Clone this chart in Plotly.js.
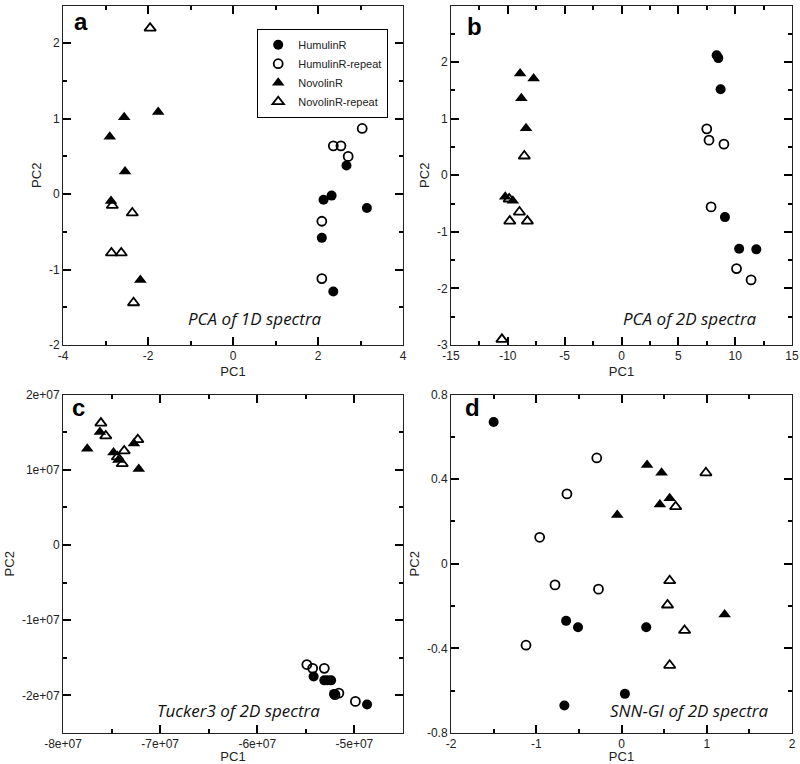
<!DOCTYPE html>
<html>
<head>
<meta charset="utf-8">
<script src="https://cdn.plot.ly/plotly-3.0.1.min.js"></script>
<style>
  html, body { margin: 0; padding: 0; background: #fff; }
  #grafica { width: 800px; height: 764px; }
</style>
</head>
<body>
<div id="grafica"></div>
<script>
// series names
let series = ['HumulinR', 'HumulinR-repeat', 'NovolinR', 'NovolinR-repeat'];

// panel a: PCA of 1D spectra
let aHumX = [2.67, 2.13, 2.32, 3.15, 2.09, 2.36];
let aHumY = [0.38, -0.075, -0.02, -0.185, -0.58, -1.29];
let aHumRepX = [3.04, 2.36, 2.54, 2.71, 2.09, 2.09];
let aHumRepY = [0.87, 0.64, 0.64, 0.50, -0.36, -1.12];
let aNovX = [-2.90, -2.56, -1.76, -2.54, -2.87, -2.18];
let aNovY = [0.76, 1.02, 1.09, 0.30, -0.09, -1.14];
let aNovRepX = [-1.95, -2.84, -2.37, -2.86, -2.63, -2.34];
let aNovRepY = [2.20, -0.15, -0.25, -0.78, -0.78, -1.44];

// panel b: PCA of 2D spectra
let bHumX = [8.37, 8.52, 8.72, 9.10, 10.35, 11.86];
let bHumY = [2.12, 2.07, 1.52, -0.74, -1.30, -1.31];
let bHumRepX = [7.5, 7.7, 9.01, 7.88, 10.12, 11.40];
let bHumRepY = [0.82, 0.62, 0.55, -0.56, -1.65, -1.85];
let bNovX = [-8.92, -7.73, -8.81, -8.40, -10.23, -9.56];
let bNovY = [1.80, 1.71, 1.36, 0.83, -0.38, -0.45];
let bNovRepX = [-8.55, -9.88, -8.98, -9.83, -8.28, -10.52];
let bNovRepY = [0.34, -0.42, -0.65, -0.81, -0.81, -2.90];

// panel c: Tucker3 of 2D spectra
let cHumX = [-5.42e7, -5.31e7, -5.24e7, -5.21e7, -4.87e7, -5.28e7];
let cHumY = [-1.75e7, -1.80e7, -1.80e7, -1.98e7, -2.12e7, -1.80e7];
let cHumRepX = [-5.49e7, -5.43e7, -5.31e7, -5.16e7, -4.99e7, -5.20e7];
let cHumRepY = [-1.59e7, -1.64e7, -1.64e7, -1.97e7, -2.08e7, -1.99e7];
let cNovX = [-7.75e7, -7.62e7, -7.48e7, -7.43e7, -7.27e7, -7.22e7];
let cNovY = [1.28e7, 1.50e7, 1.23e7, 1.13e7, 1.35e7, 1.01e7];
let cNovRepX = [-7.61e7, -7.56e7, -7.37e7, -7.39e7, -7.23e7, -7.44e7];
let cNovRepY = [1.62e7, 1.45e7, 1.25e7, 1.08e7, 1.40e7, 1.17e7];

// panel d: SNN-GI of 2D spectra
let dHumX = [-1.50, -0.65, -0.51, 0.29, 0.04, -0.67];
let dHumY = [0.67, -0.27, -0.30, -0.30, -0.615, -0.67];
let dHumRepX = [-0.29, -0.64, -0.96, -0.78, -0.27, -1.12];
let dHumRepY = [0.50, 0.33, 0.125, -0.10, -0.12, -0.385];
let dNovX = [0.30, 0.47, 0.45, 0.565, -0.05, 1.21];
let dNovY = [0.467, 0.43, 0.28, 0.31, 0.23, -0.24];
let dNovRepX = [0.99, 0.635, 0.565, 0.54, 0.74, 0.565];
let dNovRepY = [0.43, 0.27, -0.08, -0.195, -0.315, -0.48];

// tick labels
let aXTicks = [-4, -2, 0, 2, 4], aXText = ['-4', '-2', '0', '2', '4'];
let aYTicks = [-2, -1, 0, 1, 2], aYText = ['-2', '-1', '0', '1', '2'];
let bXTicks = [-15, -10, -5, 0, 5, 10, 15], bXText = ['-15', '-10', '-5', '0', '5', '10', '15'];
let bYTicks = [-3, -2, -1, 0, 1, 2, 3], bYText = ['-3', '-2', '-1', '0', '1', '2', '3'];
let cXTicks = [-8e7, -7e7, -6e7, -5e7], cXText = ['-8e+07', '-7e+07', '-6e+07', '-5e+07'];
let cYTicks = [-2e7, -1e7, 0, 1e7, 2e7], cYText = ['-2e+07', '-1e+07', '0', '1e+07', '2e+07'];
let dXTicks = [-2, -1, 0, 1, 2], dXText = ['-2', '-1', '0', '1', '2'];
let dYTicks = [-0.8, -0.4, 0, 0.4, 0.8], dYText = ['-0.8', '-0.4', '0', '0.4', '0.8'];

let paneles = [
    { xs: [aHumX, aHumRepX, aNovX, aNovRepX], ys: [aHumY, aHumRepY, aNovY, aNovRepY] },
    { xs: [bHumX, bHumRepX, bNovX, bNovRepX], ys: [bHumY, bHumRepY, bNovY, bNovRepY] },
    { xs: [cHumX, cHumRepX, cNovX, cNovRepX], ys: [cHumY, cHumRepY, cNovY, cNovRepY] },
    { xs: [dHumX, dHumRepX, dNovX, dNovRepX], ys: [dHumY, dHumRepY, dNovY, dNovRepY] }
];

let simbolos = ['circle', 'circle-open', 'triangle-up', 'triangle-up-open'];
let tamanos = [10, 9, 11, 10];

let traces = [];
paneles.forEach((p, i) => {
    let sufijo = i === 0 ? '' : String(i + 1);
    for (let s = 0; s < 4; s++) {
        traces.push({
            x: p.xs[s],
            y: p.ys[s],
            type: 'scatter',
            mode: 'markers',
            name: series[s],
            showlegend: i === 0,
            xaxis: 'x' + sufijo,
            yaxis: 'y' + sufijo,
            marker: {
                symbol: simbolos[s],
                size: tamanos[s],
                color: '#000',
                line: { color: '#000', width: s % 2 === 1 ? 1.8 : 0 }
            }
        });
    }
});

function eje(dominio, rango, tickvals, ticktext, minorDtick, titulo, ancla) {
    return {
        domain: dominio,
        range: rango,
        anchor: ancla,
        tickmode: 'array',
        tickvals: tickvals,
        ticktext: ticktext,
        ticks: 'inside',
        ticklen: 8,
        tickwidth: 1.6,
        tickcolor: '#000',
        minor: { ticks: 'inside', ticklen: 4, dtick: minorDtick },
        showline: true,
        linecolor: '#222',
        mirror: 'ticks',
        showgrid: false,
        zeroline: false,
        tickfont: { family: 'Liberation Sans, Arial, sans-serif', size: 12, color: '#222' },
        title: { text: titulo, font: { family: 'Liberation Sans, Arial, sans-serif', size: 13, color: '#222' }, standoff: 4 }
    };
}

let xIzq = [63 / 800, 403 / 800], xDer = [451 / 800, 792 / 800];
let yArr = [1 - 345 / 764, 1 - 5.5 / 764], yAba = [1 - 733 / 764, 1 - 394.5 / 764];

let fuenteIt = { family: 'Open Sans, sans-serif', size: 17, color: '#111' };
let fuenteLetra = { family: 'Liberation Sans, Arial, sans-serif', size: 24, color: '#000' };

function nota(texto, px, py, fuente, estilo) {
    return {
        text: estilo === 'i' ? '<i>' + texto + '</i>' : '<b>' + texto + '</b>',
        xref: 'paper', yref: 'paper',
        x: px / 800, y: 1 - py / 764,
        xanchor: 'center', yanchor: 'middle',
        showarrow: false,
        font: fuente
    };
}

const layout = {
    width: 800,
    height: 764,
    margin: { l: 0, r: 0, t: 0, b: 0 },
    xaxis: eje(xIzq, [-4, 4], aXTicks, aXText, 1, 'PC1', 'y'),
    yaxis: eje(yArr, [-2, 2.5], aYTicks, aYText, 0.5, 'PC2', 'x'),
    xaxis2: eje(xDer, [-15, 15], bXTicks, bXText, 2.5, 'PC1', 'y2'),
    yaxis2: eje(yArr, [-3, 3], bYTicks, bYText, 0.5, 'PC2', 'x2'),
    xaxis3: eje(xIzq, [-8e7, -4.5e7], cXTicks, cXText, 5e6, 'PC1', 'y3'),
    yaxis3: eje(yAba, [-2.5e7, 2e7], cYTicks, cYText, 5e6, 'PC2', 'x3'),
    xaxis4: eje(xDer, [-2, 2], dXTicks, dXText, 0.5, 'PC1', 'y4'),
    yaxis4: eje(yAba, [-0.8, 0.8], dYTicks, dYText, 0.2, 'PC2', 'x4'),
    legend: {
        x: 257 / 800, y: 1 - 29 / 764,
        xanchor: 'left', yanchor: 'top',
        bgcolor: '#fff',
        bordercolor: '#000',
        borderwidth: 1.2,
        tracegroupgap: 0,
        itemwidth: 30,
        font: { family: 'Liberation Sans, Arial, sans-serif', size: 11, color: '#222' }
    },
    annotations: [
        nota('a', 81, 21, fuenteLetra, 'b'),
        nota('b', 474, 26, fuenteLetra, 'b'),
        nota('c', 78, 407, fuenteLetra, 'b'),
        nota('d', 472, 407, fuenteLetra, 'b'),
        nota('PCA of 1D spectra', 255, 319, fuenteIt, 'i'),
        nota('PCA of 2D spectra', 690, 319, fuenteIt, 'i'),
        nota('Tucker3 of 2D spectra', 238, 710, fuenteIt, 'i'),
        nota('SNN-GI of 2D spectra', 689, 710, fuenteIt, 'i')
    ]
};

Plotly.newPlot('grafica', traces, layout, { displayModeBar: false });
</script>
</body>
</html>
